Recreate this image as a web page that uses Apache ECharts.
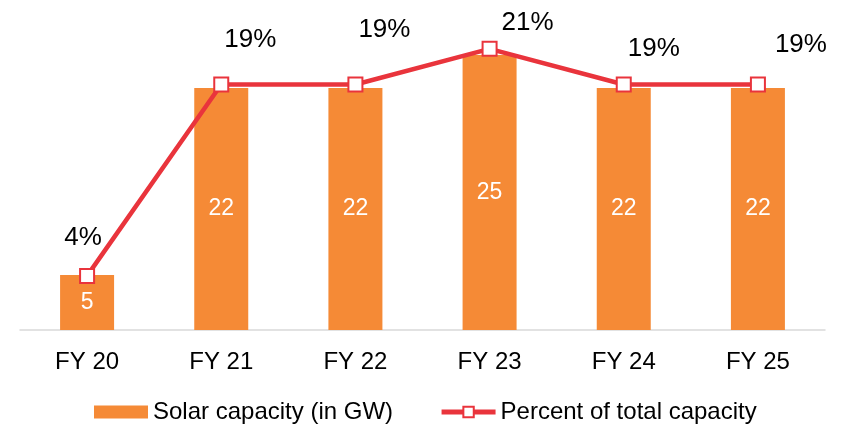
<!DOCTYPE html>
<html>
<head>
<meta charset="utf-8">
<script src="https://cdn.jsdelivr.net/npm/echarts@6/dist/echarts.min.js"></script>
<style>
	html, body { margin: 0; padding: 0; background: #fff; }
	#main { width: 841px; height: 425px; }
</style>
</head>
<body>
<div id="main"></div>
<script>
	// 数据
	var years = ['FY 20', 'FY 21', 'FY 22', 'FY 23', 'FY 24', 'FY 25'];
	var solarGW = [5, 22, 22, 25, 22, 22];
	var percentTotal = [4.1, 18.6, 18.6, 21.3, 18.6, 18.6];

	// 百分比标签的偏移（参考图里是手动摆放的）
	var labelShift = [[-4, -12], [29, -19], [29, -29], [38, 0], [30, -10], [43, -14]];

	var font = 'Liberation Sans, Arial, sans-serif';
	var orange = '#F58A36';
	var red = '#E9343C';

	var myChart = echarts.init(document.getElementById('main'));

	var lineData = percentTotal.map(function(v, i) {
		return {
			value: v,
			label: { offset: labelShift[i] }
		};
	});

	var option = {
		animation: false,
		grid: { left: 20, right: 16, top: 0, bottom: 95 },
		legend: {
			top: 400,
			left: 94,
			padding: 0,
			itemGap: 46,
			itemWidth: 54,
			itemHeight: 13,
			textStyle: { fontFamily: font, fontSize: 24, color: '#000' },
			data: [
				{ name: 'Solar capacity (in GW)', icon: 'rect' },
				{
					name: 'Percent of total capacity',
					lineStyle: { width: 5 },
					itemStyle: { borderWidth: 2 }
				}
			]
		},
		xAxis: {
			type: 'category',
			data: years,
			axisLine: { lineStyle: { color: '#d9d9d9', width: 1.5 } },
			axisTick: { show: false },
			axisLabel: { fontFamily: font, fontSize: 24, color: '#000', margin: 20 }
		},
		yAxis: [{
			type: 'value', min: 0, max: 30, show: false, splitLine: { show: false }
		}, {
			type: 'value', min: 0, max: 25, show: false, splitLine: { show: false }
		}],
		series: [{
			name: 'Solar capacity (in GW)',
			type: 'bar',
			data: solarGW,
			barWidth: 54,
			itemStyle: { color: orange },
			label: {
				show: true,
				position: 'inside',
				color: '#fff',
				fontFamily: font,
				fontSize: 23
			}
		}, {
			name: 'Percent of total capacity',
			type: 'line',
			yAxisIndex: 1,
			data: lineData,
			symbol: 'rect',
			symbolSize: 14,
			lineStyle: { color: red, width: 4.5 },
			itemStyle: { color: '#fff', borderColor: red, borderWidth: 2 },
			label: {
				show: true,
				position: 'top',
				color: '#000',
				fontFamily: font,
				fontSize: 26,
				formatter: function(p) {
					return Math.round(p.value) + '%';
				}
			}
		}]
	};

	myChart.setOption(option);
</script>
</body>
</html>
